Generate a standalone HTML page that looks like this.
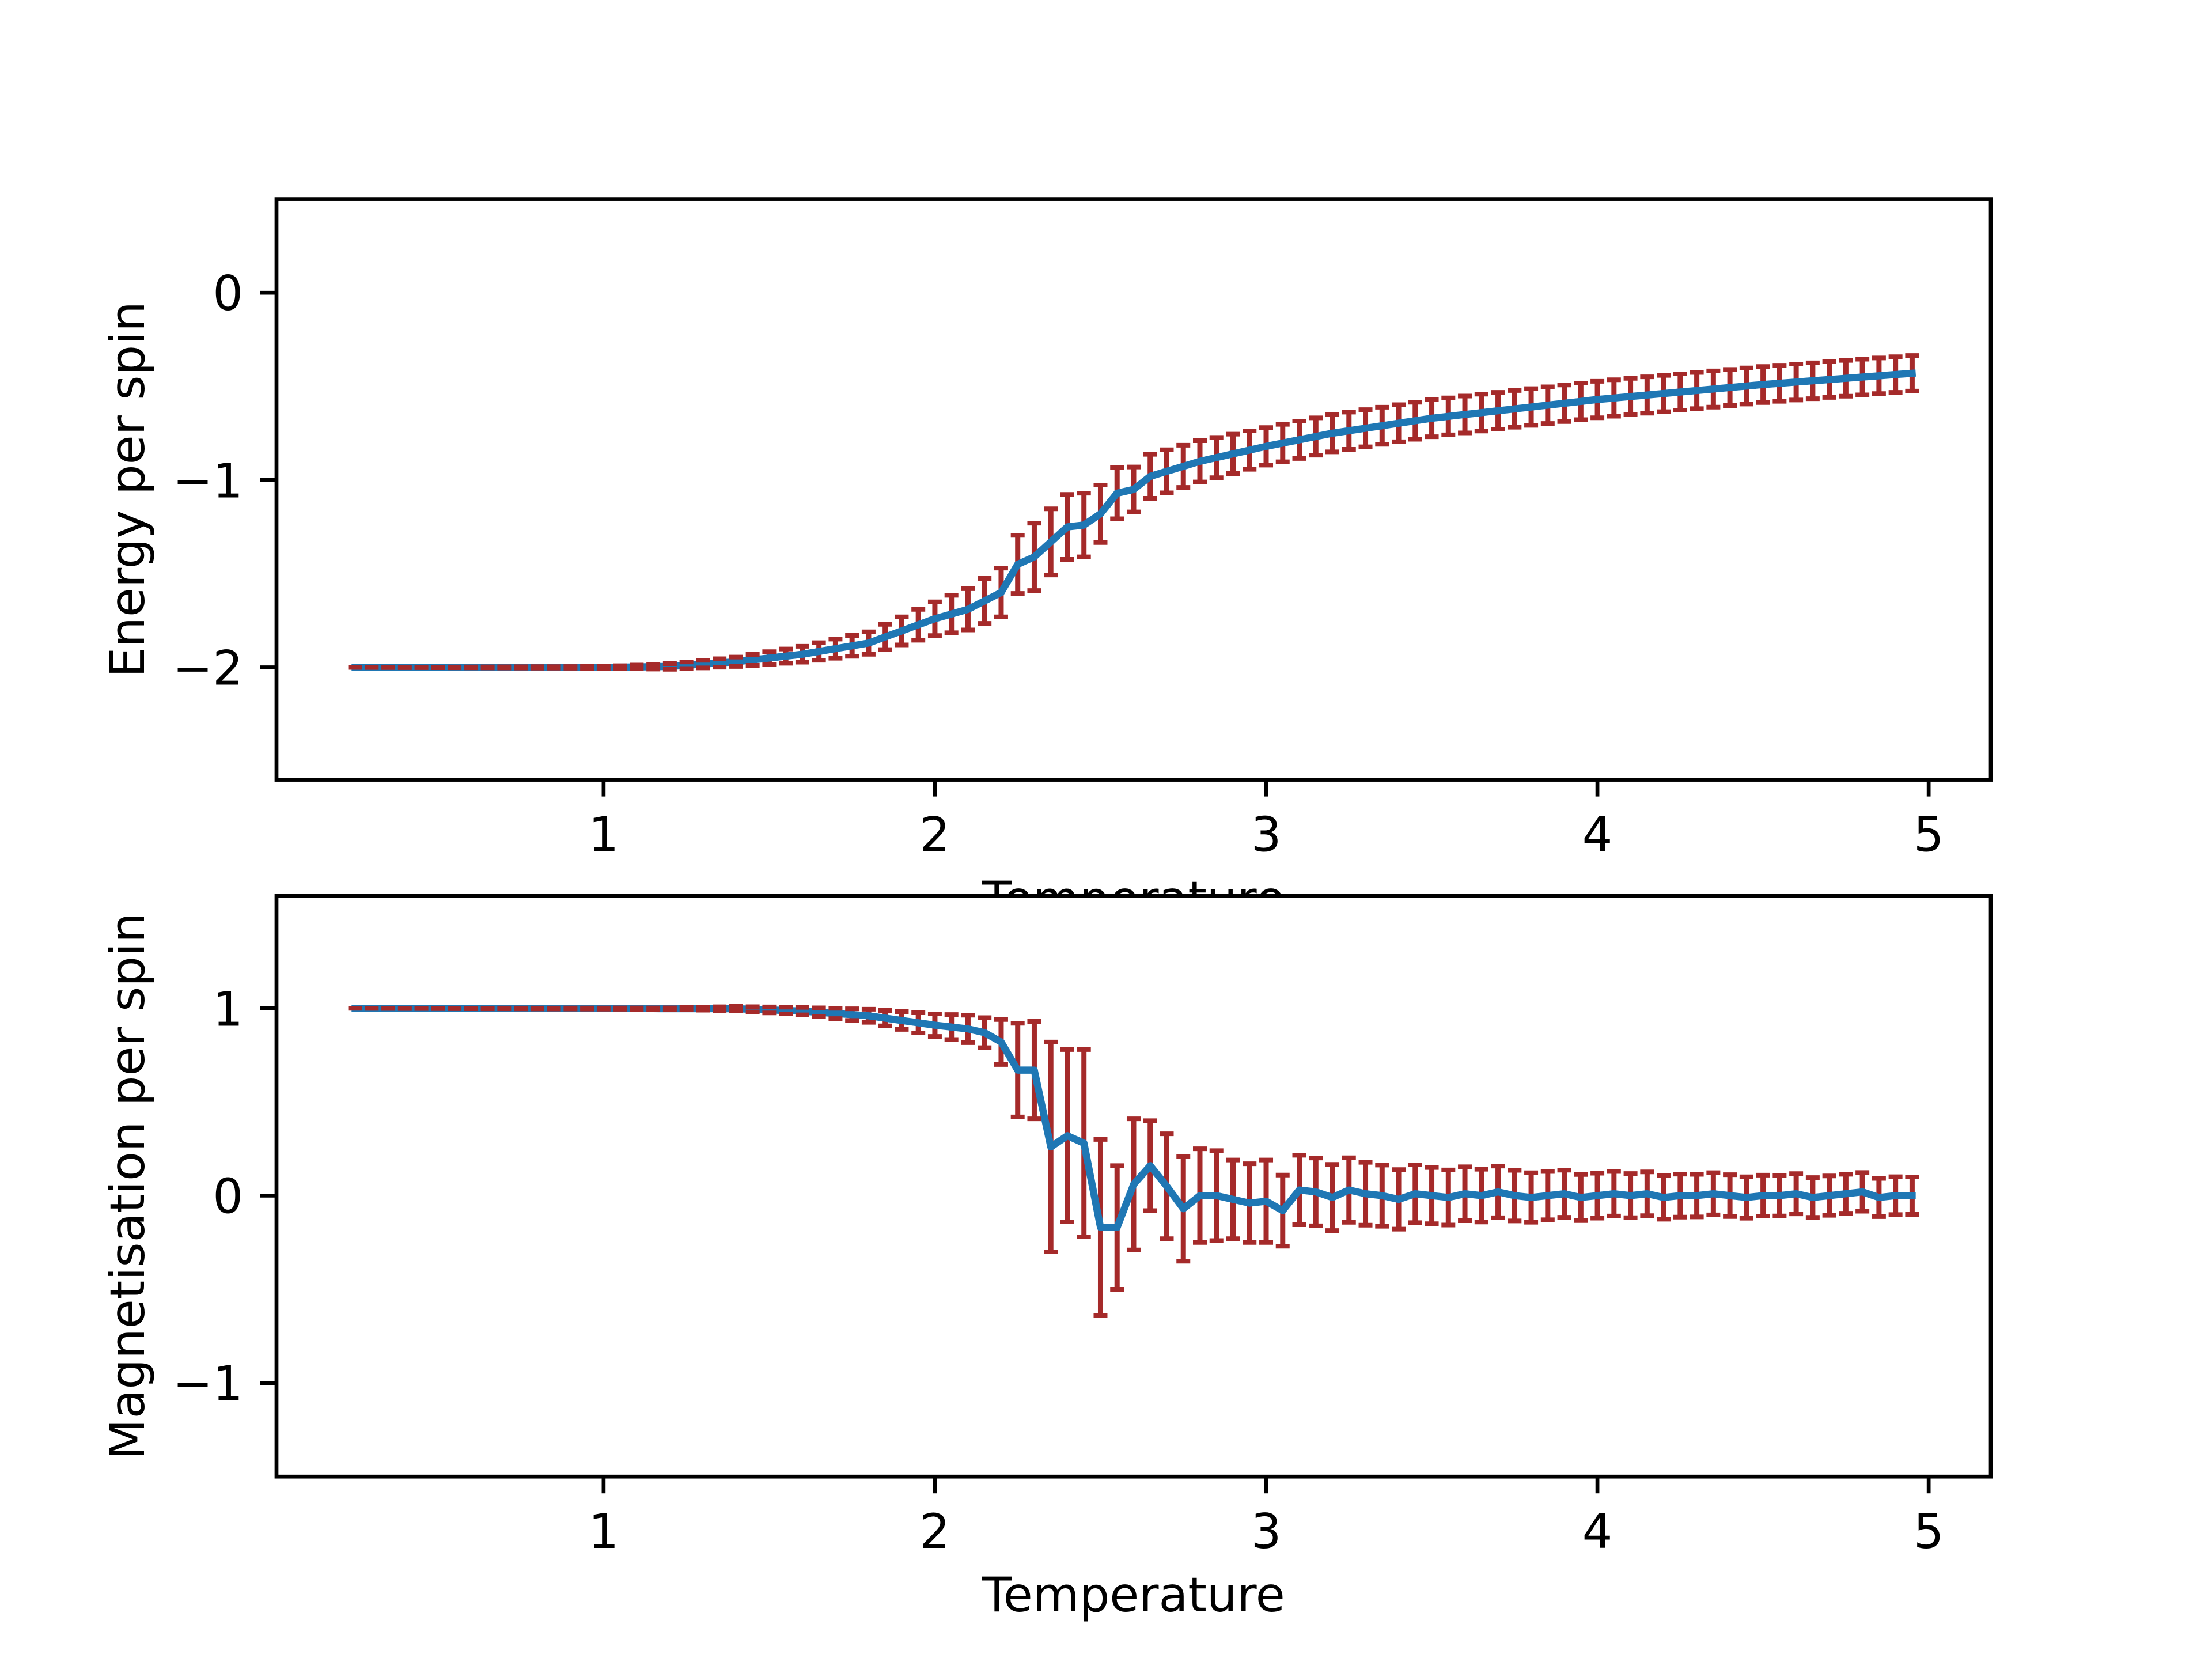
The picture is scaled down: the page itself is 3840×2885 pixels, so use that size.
<!DOCTYPE html>
<html><head><meta charset="utf-8"><style>
html,body{margin:0;padding:0;background:#fff}
svg text{font-family:"DejaVu Sans","Liberation Sans",sans-serif;font-size:83px;fill:#000}
</style></head><body>
<svg id="s" width="3840" height="2880" xmlns="http://www.w3.org/2000/svg">
<rect width="3840" height="2880" fill="#fff"/>
<g id="top"></g>
<text x="1968" y="1589" text-anchor="middle">Temperature</text>
<rect x="480" y="1555.2" width="2976" height="1008" fill="#fff"/>
<g id="bot"></g>
<text x="1968" y="2797" text-anchor="middle">Temperature</text>
<text transform="translate(250,849.6) rotate(-90)" text-anchor="middle">Energy per spin</text>
<text transform="translate(250,2059.2) rotate(-90)" text-anchor="middle">Magnetisation per spin</text>
</svg>
<script>
const NS="http://www.w3.org/2000/svg";
function el(p,t,a){const e=document.createElementNS(NS,t);for(const k in a)e.setAttribute(k,a[k]);p.appendChild(e);return e;}
function interp(kp,x){if(x<=kp[0][0])return kp[0][1];for(let i=1;i<kp.length;i++){if(x<=kp[i][0]){const a=kp[i-1],b=kp[i];return a[1]+(b[1]-a[1])*(x-a[0])/(b[0]-a[0]);}}return kp[kp.length-1][1];}
const X=t=>472.8+575.07*t;
const T=[];for(let i=0;i<95;i++)T.push(+(0.25+0.05*i).toFixed(2));
const Ek=[[0.25,-2],[1.0,-2],[1.2,-1.995],[1.4,-1.97],[1.6,-1.93],[1.8,-1.87],[2.0,-1.74],[2.1,-1.69],[2.2,-1.6],[2.25,-1.45],[2.3,-1.41],[2.4,-1.25],[2.45,-1.24],[2.5,-1.18],[2.55,-1.07],[2.6,-1.05],[2.65,-0.98],[2.8,-0.9],[3.0,-0.82],[3.2,-0.75],[3.5,-0.67],[4.0,-0.57],[4.5,-0.49],[4.95,-0.43]];
const Eek=[[0.25,0],[1.0,0.005],[1.4,0.025],[1.8,0.06],[2.0,0.09],[2.2,0.13],[2.3,0.18],[2.45,0.17],[2.6,0.12],[3.0,0.1],[4.95,0.095]];
const Mk={2.15:0.87,2.2:0.82,2.25:0.67,2.3:0.67,2.35:0.26,2.4:0.32,2.45:0.28,2.5:-0.17,2.55:-0.17,2.6:0.06,2.65:0.16,2.7:0.05,2.75:-0.07,2.8:0.0,2.85:0.0,2.9:-0.02,2.95:-0.04,3.0:-0.03,3.05:-0.08,3.1:0.03,3.15:0.02,3.2:-0.01,3.25:0.03,3.3:0.01};
const Mbase=[[0.25,1],[1.4,0.998],[1.6,0.985],[1.8,0.96],[2.0,0.91],[2.1,0.89],[2.15,0.87]];
const Mek={2.2:0.12,2.25:0.25,2.3:0.26,2.35:0.56,2.4:0.46,2.45:0.5,2.5:0.47,2.55:0.33,2.6:0.35,2.65:0.24,2.7:0.28,2.75:0.28,2.8:0.25,2.85:0.24,2.9:0.21,2.95:0.21,3.0:0.22,3.05:0.19};
const Mebase=[[0.25,0],[1.2,0.004],[1.6,0.02],[1.8,0.035],[2.0,0.06],[2.15,0.08],[2.2,0.12]];
const noise=[0.0,-0.02,0.01,0.0,-0.01,0.01,0.0,0.02,0.0,-0.01,0.0,0.01,-0.01,0.0,0.01,0.0,0.01,-0.01,0.0,0.0,0.01,0.0,-0.01,0.0,0.0,0.01,-0.01,0.0,0.01,0.02,-0.01,0.0,0.0,0.01,0.0];
function draw(g,yTop,ymax,ymin,ticks,vals,errs){
  const Y=v=>yTop+(ymax-v)/(ymax-ymin)*1008;
  const bw=9,cw=24,ch=8;
  let caps="",bars="";
  for(let i=0;i<T.length;i++){const x=X(T[i]),y1=Y(vals[i]+errs[i]),y2=Y(vals[i]-errs[i]);
    bars+=`M${x},${y1}V${y2}`;
    caps+=`M${x-cw/2},${y1}H${x+cw/2}M${x-cw/2},${y2}H${x+cw/2}`;}
  el(g,"path",{d:bars,stroke:"#a52a2a","stroke-width":bw,fill:"none"});
  el(g,"polyline",{points:T.map((t,i)=>X(t)+","+Y(vals[i])).join(" "),stroke:"#1f77b4","stroke-width":12.5,fill:"none","stroke-linejoin":"round","stroke-linecap":"square"});
  el(g,"path",{d:caps,stroke:"#a52a2a","stroke-width":ch,fill:"none"});
  el(g,"rect",{x:480,y:yTop,width:2976,height:1008,fill:"none",stroke:"#000","stroke-width":6.7});
  for(let k=1;k<=5;k++){const x=X(k);el(g,"line",{x1:x,x2:x,y1:yTop+1008,y2:yTop+1008+29,stroke:"#000","stroke-width":6.7});
    const t=el(g,"text",{x:x,y:yTop+1008+124,"text-anchor":"middle"});t.textContent=k;}
  ticks.forEach(v=>{const y=Y(v);el(g,"line",{x1:451,x2:480,y1:y,y2:y,stroke:"#000","stroke-width":6.7});
    const t=el(g,"text",{x:422,y:y+30,"text-anchor":"end"});t.textContent=v<0?"\u2212"+(-v):String(v);});
}
const E=T.map(t=>interp(Ek,t)),Ee=T.map(t=>interp(Eek,t));
let ni=0;
const M=T.map(t=>{if(t<=2.15)return interp(Mbase,t);if(t in Mk)return Mk[t];return noise[(ni++)%noise.length];});
const Me=T.map(t=>{if(t<=2.2&&!(t in Mek))return interp(Mebase,t);if(t in Mek)return Mek[t];return interp([[3.05,0.19],[3.5,0.15],[4.0,0.12],[4.95,0.1]],t);});
draw(document.getElementById("top"),345.6,0.5,-2.6,[0,-1,-2],E,Ee);
draw(document.getElementById("bot"),1555.2,1.6,-1.5,[1,0,-1],M,Me);
</script>
</body></html>
